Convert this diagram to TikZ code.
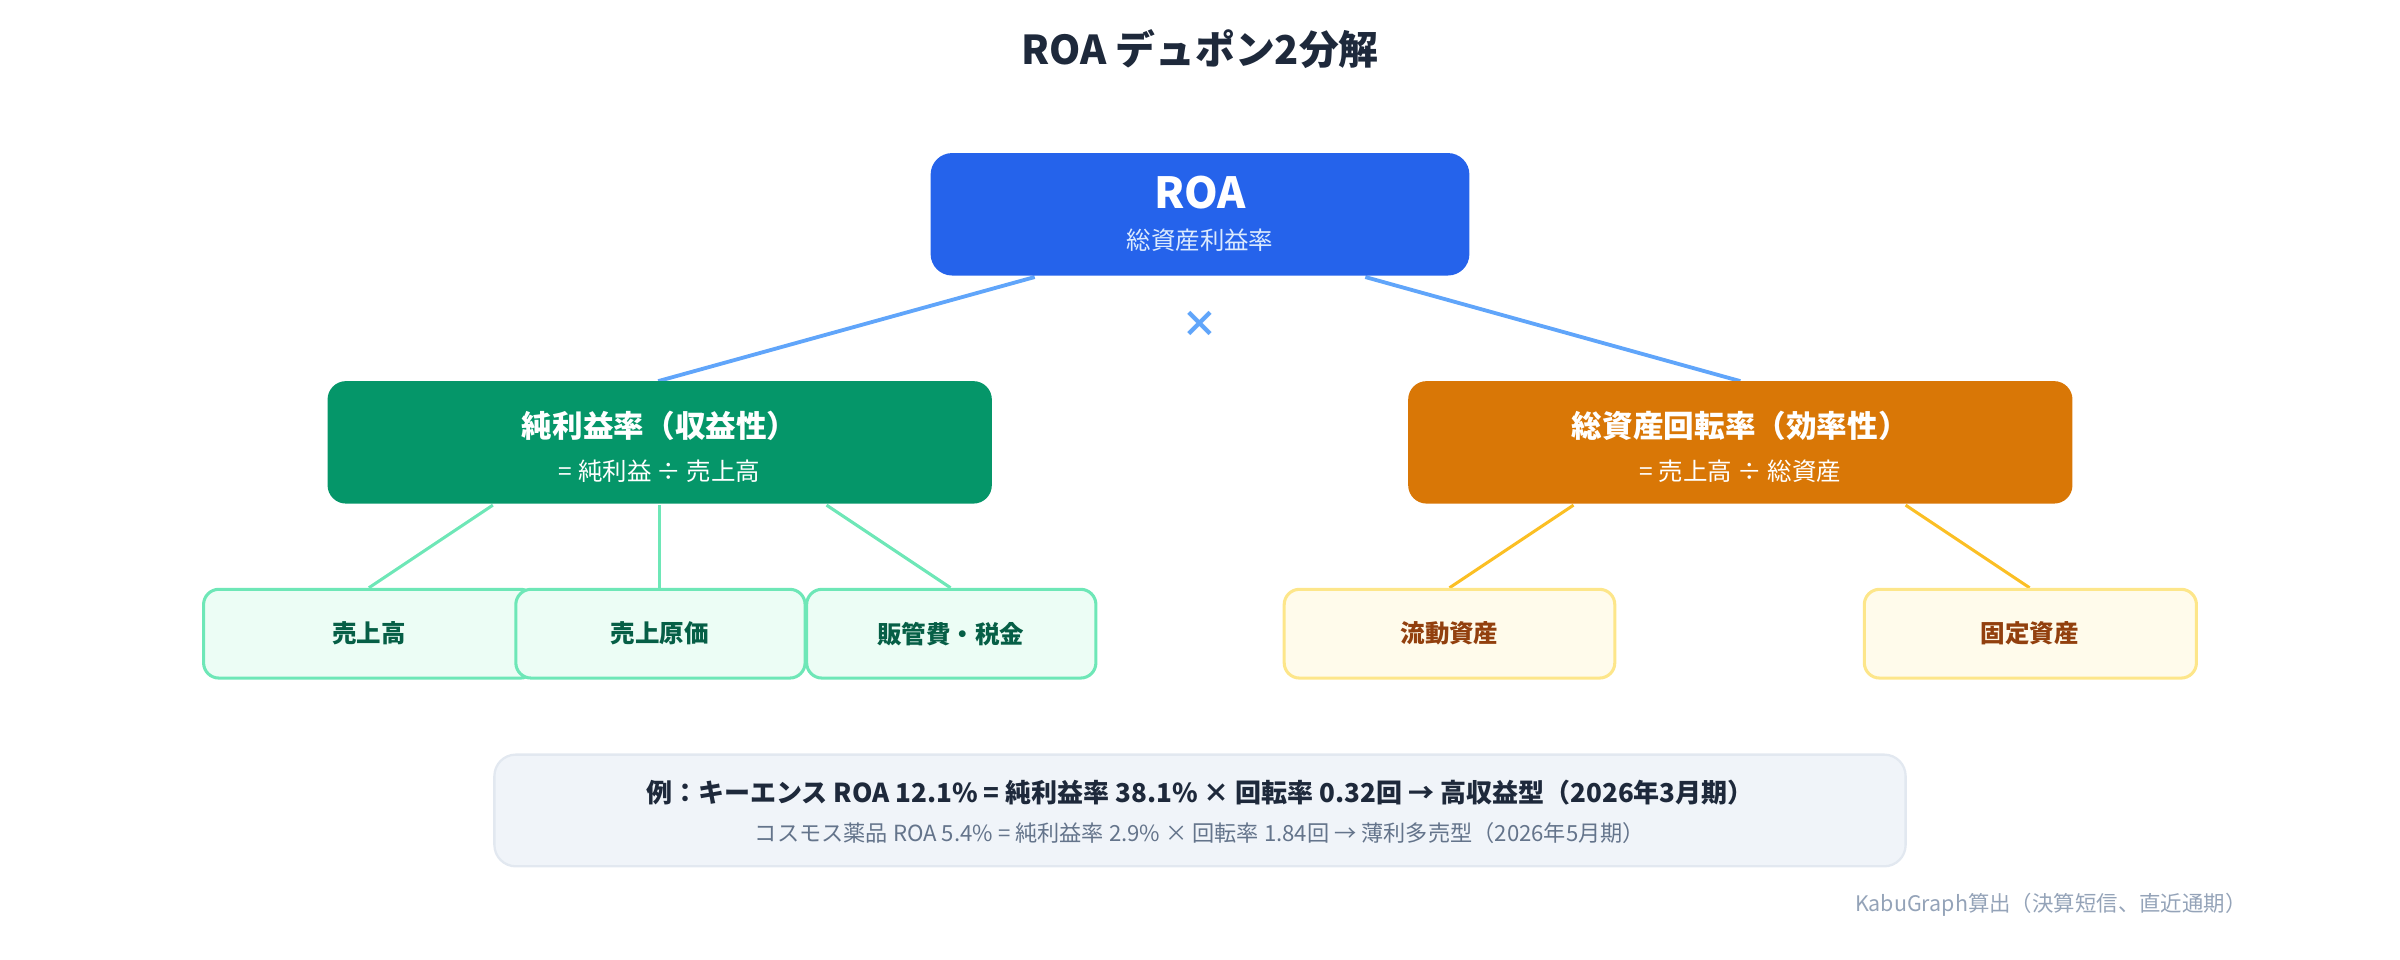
\documentclass[tikz,border=0pt]{standalone}
\usepackage{fontspec}
\setmainfont{Noto Sans CJK JP}
\begin{document}
\begin{tikzpicture}[x=1pt,y=-1pt,
  box/.style={rounded corners=12pt,draw=none},
  leafg/.style={rounded corners=10pt,draw=gbd,line width=2pt,fill=gbg},
  leafo/.style={rounded corners=10pt,draw=obd,line width=2pt,fill=obg},
  gl/.style={draw=gbd,line width=2pt},
  ol/.style={draw=oln,line width=2pt},
  t/.style={inner sep=0pt,anchor=center}]
\definecolor{blue}{HTML}{2563EB}
\definecolor{lblue}{HTML}{60A5FA}
\definecolor{green}{HTML}{059669}
\definecolor{orange}{HTML}{D97706}
\definecolor{gbg}{HTML}{ECFDF5}
\definecolor{gbd}{HTML}{6EE7B7}
\definecolor{gtx}{HTML}{065F46}
\definecolor{obg}{HTML}{FFFBEB}
\definecolor{obd}{HTML}{FDE68A}
\definecolor{oln}{HTML}{FBBF24}
\definecolor{otx}{HTML}{92400E}
\definecolor{dark}{HTML}{1E293B}
\definecolor{mid}{HTML}{64748B}
\definecolor{ebg}{HTML}{F0F4F9}
\definecolor{ebd}{HTML}{E2E8F0}
\definecolor{foot}{HTML}{94A3B8}
\definecolor{sub}{HTML}{DBEAFE}
\useasboundingbox (0,0) rectangle (1568,627);
\node[t,font=\fontsize{26}{30}\selectfont\bfseries,text=dark] (title) at (784,32) {ROA デュポン2分解};
% connectors
\coordinate (r1) at (676,181); \coordinate (r2) at (892,181);
\coordinate (g0) at (430,249); \coordinate (o0) at (1137,249);
\draw[lblue,line width=2.5pt] (r1) -- (g0);
\draw[lblue,line width=2.5pt] (r2) -- (o0);
\node[t,font=\fontsize{24}{26}\selectfont\bfseries,text=lblue] (x) at (784,212) {×};
\coordinate (ga) at (322,330); \coordinate (gb) at (431,330); \coordinate (gc) at (540,330);
\coordinate (la) at (241,384); \coordinate (lb) at (431,384); \coordinate (lc) at (621,384);
\draw[gl] (ga) -- (la); \draw[gl] (gb) -- (lb); \draw[gl] (gc) -- (lc);
\coordinate (oa) at (1028,330); \coordinate (ob) at (1245,330);
\coordinate (ld) at (947,384); \coordinate (le) at (1326,384);
\draw[ol] (oa) -- (ld); \draw[ol] (ob) -- (le);
% main boxes
\fill[blue,rounded corners=14pt] (608,100) rectangle (960,180);
\node[t,font=\fontsize{28}{30}\selectfont\bfseries,text=white] (roa) at (784,126) {ROA};
\node[t,font=\fontsize{16}{18}\selectfont,text=sub] (roas) at (784,157) {総資産利益率};
\fill[green,rounded corners=12pt] (214,249) rectangle (648,329);
\node[t,font=\fontsize{20}{22}\selectfont\bfseries,text=white] (gt) at (431,278) {純利益率（収益性）};
\node[t,font=\fontsize{16}{18}\selectfont,text=white] (gs) at (431,308) {= 純利益 ÷ 売上高};
\fill[orange,rounded corners=12pt] (920,249) rectangle (1354,329);
\node[t,font=\fontsize{20}{22}\selectfont\bfseries,text=white] (ot) at (1137,278) {総資産回転率（効率性）};
\node[t,font=\fontsize{16}{18}\selectfont,text=white] (os) at (1137,308) {= 売上高 ÷ 総資産};
% leaves
\draw[leafg] (133,385) rectangle (350,443);
\node[t,font=\fontsize{16}{18}\selectfont\bfseries,text=gtx] (l1) at (241,414) {売上高};
\draw[leafg] (337,385) rectangle (526,443);
\node[t,font=\fontsize{16}{18}\selectfont\bfseries,text=gtx] (l2) at (431,414) {売上原価};
\draw[leafg] (527,385) rectangle (716,443);
\node[t,font=\fontsize{16}{18}\selectfont\bfseries,text=gtx] (l3) at (621,414) {販管費・税金};
\draw[leafo] (839,385) rectangle (1055,443);
\node[t,font=\fontsize{16}{18}\selectfont\bfseries,text=otx] (l4) at (947,414) {流動資産};
\draw[leafo] (1218,385) rectangle (1435,443);
\node[t,font=\fontsize{16}{18}\selectfont\bfseries,text=otx] (l5) at (1326,414) {固定資産};
% example
\draw[fill=ebg,draw=ebd,line width=1.5pt,rounded corners=14pt] (323,493) rectangle (1245,566);
\node[t,font=\fontsize{17}{19}\selectfont\bfseries,text=dark] (e1) at (784,518) {例：キーエンス ROA 12.1\% = 純利益率 38.1\% × 回転率 0.32回 → 高収益型（2026年3月期）};
\node[t,font=\fontsize{14.5}{17}\selectfont,text=mid] (e2) at (784,544) {コスモス薬品 ROA 5.4\% = 純利益率 2.9\% × 回転率 1.84回 → 薄利多売型（2026年5月期）};
\node[font=\fontsize{14}{16}\selectfont,text=foot,inner sep=0pt,anchor=east] (ft) at (1468,591) {KabuGraph算出（決算短信、直近通期）};
\end{tikzpicture}
\end{document}
